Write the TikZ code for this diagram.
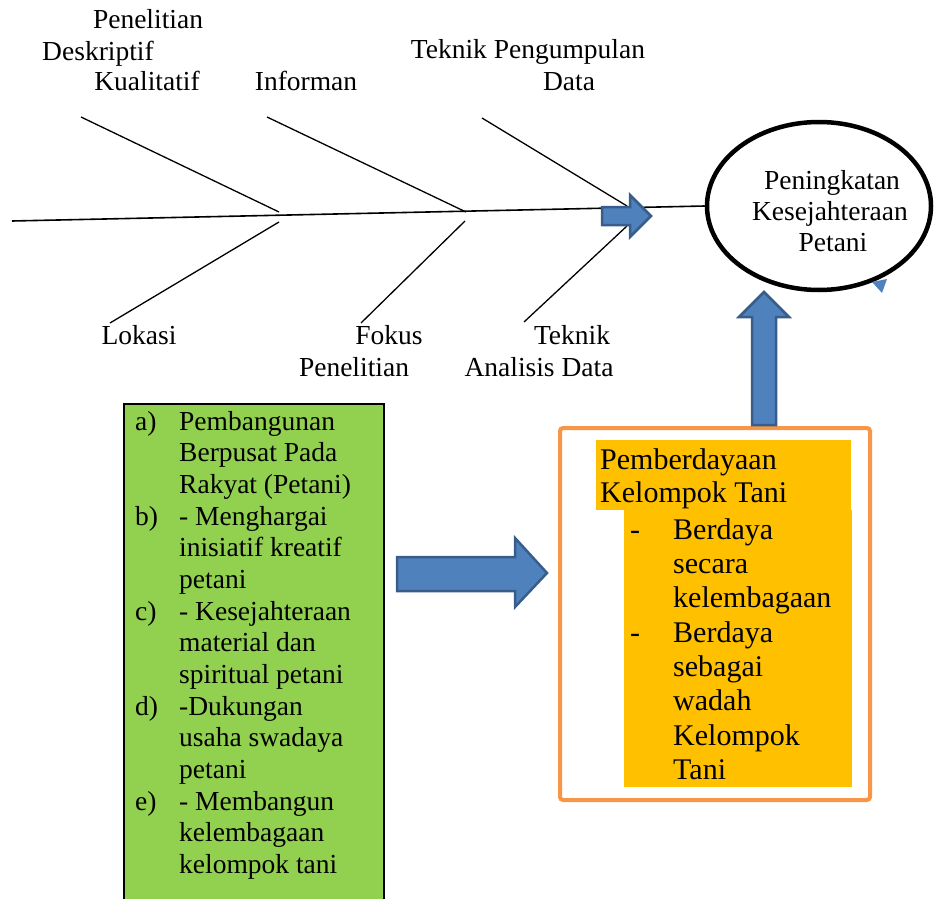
\documentclass[tikz,border=0pt]{standalone}
\usepackage{fontspec}
\setmainfont{Liberation Serif}
\usetikzlibrary{shapes.geometric}
\definecolor{birupanah}{HTML}{4F81BD}
\definecolor{birutepi}{HTML}{385D8A}
\definecolor{hijaukotak}{HTML}{92D050}
\definecolor{oranyetepi}{HTML}{F79646}
\definecolor{kuningsorot}{HTML}{FFC000}
\tikzset{
  teks/.style={inner sep=0pt, font=\fontsize{27.5}{31.6}\selectfont, text height=19pt, text depth=6pt},
  teksbesar/.style={inner sep=0pt, font=\fontsize{30}{34.3}\selectfont, text height=21pt, text depth=6.5pt},
  tulang/.style={line width=1.3pt},
  panah/.style={fill=birupanah, draw=birutepi, line width=2.5pt, line join=miter}
}

\begin{document}
\begin{tikzpicture}[x=1pt,y=-1pt]
\useasboundingbox (0,0) rectangle (934,899);
\node[draw, ellipse, line width=4.5pt, minimum width=224pt, minimum height=168pt, inner sep=0pt] (tujuan) at (819,206) {};
\node[teks] (tujuan-1) at (832,183) {Peningkatan};
\node[teks] (tujuan-2) at (830,214) {Kesejahteraan};
\node[teks] (tujuan-3) at (833,245) {Petani};
\fill[birupanah] (872,282) -- (887,279) -- (882,293) -- cycle;

\coordinate (ekor) at (12,221);
\coordinate (atas1) at (81,117);
\coordinate (sendi1a) at (279,212);
\coordinate (sendi1b) at (279,222);
\coordinate (bawah1) at (110,323);
\coordinate (atas2) at (267,117);
\coordinate (sendi2a) at (466,212);
\coordinate (sendi2b) at (465,221);
\coordinate (bawah2) at (361,323);
\coordinate (atas3) at (482,118);
\coordinate (sendi3a) at (627,206);
\coordinate (sendi3b) at (627,226);
\coordinate (bawah3) at (524,322);
\draw[line width=1.6pt] (ekor) -- (tujuan.west);
\draw[tulang] (atas1) -- (sendi1a);
\draw[tulang] (sendi1b) -- (bawah1);
\draw[tulang] (atas2) -- (sendi2a);
\draw[tulang] (sendi2b) -- (bawah2);
\draw[tulang] (atas3) -- (sendi3a);
\draw[tulang] (sendi3b) -- (bawah3);
\draw[panah] (602,207) -- (630,207) -- (630,195) -- (651,216) -- (630,237) -- (630,225) -- (602,225) -- cycle;

\node[teks] (metode-1) at (148,22) {Penelitian};
\node[teks] (metode-2) at (98,54) {Deskriptif};
\node[teks] (metode-3) at (147,84) {Kualitatif};
\node[teks] (informan) at (306,84) {Informan};
\node[teks] (kumpul-1) at (528,52) {Teknik Pengumpulan};
\node[teks] (kumpul-2) at (569,84) {Data};
\node[teks] (lokasi) at (139,338) {Lokasi};
\node[teks] (fokus-1) at (389,338) {Fokus};
\node[teks] (fokus-2) at (354,370) {Penelitian};
\node[teks] (analisis-1) at (572,338) {Teknik};
\node[teks] (analisis-2) at (539,370) {Analisis Data};

\node[draw, fill=hijaukotak, line width=2pt, anchor=north west, minimum width=260pt, minimum height=505pt, inner sep=0pt] (kotakhijau) at (123,403) {};
\foreach \huruf [count=\i from 0] in {a),b),c),d),e)}
  \node[teks, anchor=west] (abjad-\i) at (135,423.7+95*\i) {\huruf};
\foreach \isi [count=\i from 0] in {Pembangunan,Berpusat Pada,Rakyat (Petani),- Menghargai,inisiatif kreatif,petani,- Kesejahteraan,material dan,spiritual petani,-Dukungan,usaha swadaya,petani,- Membangun,kelembagaan,kelompok tani}
  \node[teks, anchor=west] (hijau-\i) at (179,423.7+31.67*\i) {\isi};

\draw[panah] (397,557) -- (515,557) -- (515,538) -- (547,573) -- (515,607) -- (515,591) -- (397,591) -- cycle;

\node[draw=oranyetepi, line width=4pt, rounded corners=3pt, minimum width=310pt, minimum height=372pt, inner sep=0pt] (kotakoranye) at (715,614) {};
\fill[kuningsorot] (596,440) rectangle (851,510);
\fill[kuningsorot] (624,510) rectangle (852,787);
\node[teksbesar, anchor=west] (judul-1) at (600,462) {Pemberdayaan};
\node[teksbesar, anchor=west] (judul-2) at (600,495) {Kelompok Tani};
\node[teksbesar, anchor=west] (strip-1) at (630,532) {-};
\node[teksbesar, anchor=west] (strip-2) at (630,635) {-};
\foreach \isi [count=\i from 0] in {Berdaya,secara,kelembagaan,Berdaya,sebagai,wadah,Kelompok,Tani}
  \node[teksbesar, anchor=west] (oranye-\i) at (673,532+34.3*\i) {\isi};

\draw[panah] (752,425) -- (752,317) -- (739,317) -- (764,292) -- (789,317) -- (776,317) -- (776,425) -- cycle;
\end{tikzpicture}
\end{document}
